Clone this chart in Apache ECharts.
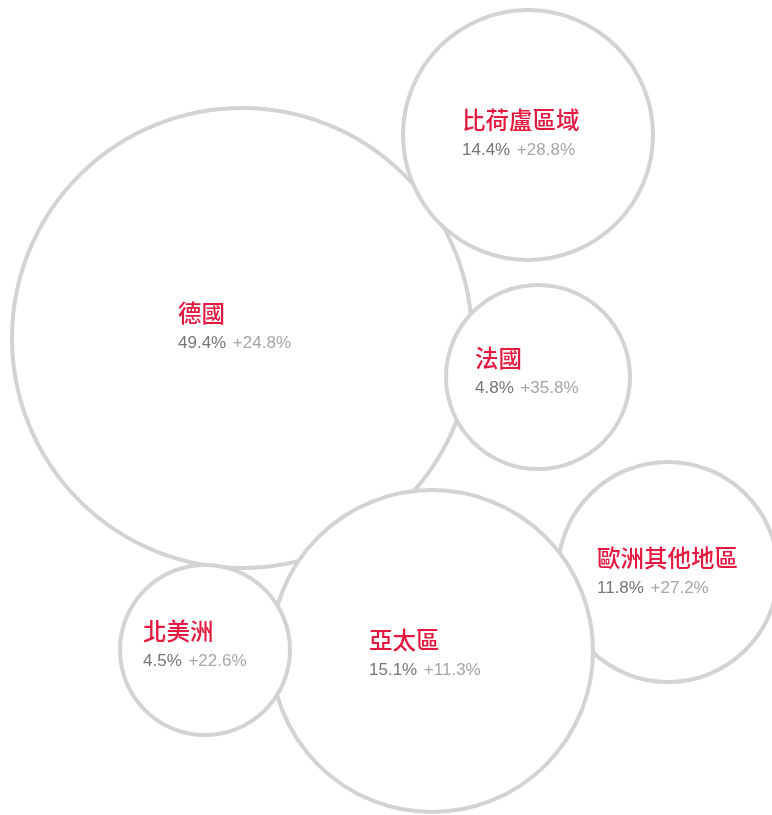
<!DOCTYPE html>
<html>
<head>
<meta charset="utf-8">
<script src="https://cdn.jsdelivr.net/npm/echarts@6/dist/echarts.min.js"></script>
<style>html,body{margin:0;padding:0;background:#fff}#c{width:772px;height:815px}</style>
</head>
<body>
<div id="c"></div>
<script>
// Data
var regions = ['德國', '比荷盧區域', '法國', '歐洲其他地區', '亞太區', '北美洲'];
var shares = [49.4, 14.4, 4.8, 11.8, 15.1, 4.5];
var growth = [24.8, 28.8, 35.8, 27.2, 11.3, 22.6];
// Layout (packed bubble positions, pixel space)
var centerX = [242, 528, 538, 668, 432, 205];
var centerY = [338, 135, 377, 572, 651, 650];
var radius = [230, 125, 92, 110, 161, 85];
var labelDX = [-64, -66, -63, -71, -63, -62];
var labelDY = [-10, 0, -4, 1, 4, -4];

var data = regions.map(function (name, i) {
  return {
    name: name,
    value: [centerX[i], centerY[i], radius[i], shares[i], growth[i]],
    label: { offset: [labelDX[i], labelDY[i]] }
  };
});

var chart = echarts.init(document.getElementById('c'));
chart.setOption({
  animation: false,
  grid: { left: 0, right: 0, top: 0, bottom: 0 },
  xAxis: { type: 'value', min: 0, max: 772, show: false },
  yAxis: { type: 'value', min: 0, max: 815, inverse: true, show: false },
  series: [{
    type: 'scatter',
    data: data,
    symbol: 'circle',
    symbolSize: function (v) { return v[2] * 2; },
    itemStyle: { color: '#fff', borderColor: '#d3d3d3', borderWidth: 4, opacity: 1 },
    label: {
      show: true,
      position: 'inside',
      align: 'left',
      verticalAlign: 'middle',
      formatter: function (p) {
        return '{t|' + p.name + '}\n{a|' + p.value[3].toFixed(1) + '%}  {b|+' + p.value[4].toFixed(1) + '%}';
      },
      rich: {
        t: { fontFamily: 'Noto Sans CJK TC', fontSize: 23.5, fontWeight: 500, color: '#e5193f', lineHeight: 31 },
        a: { fontFamily: 'Liberation Sans', fontSize: 17, color: '#767676', lineHeight: 29 },
        b: { fontFamily: 'Liberation Sans', fontSize: 17, color: '#a6a6a6', lineHeight: 29 }
      }
    },
    emphasis: { disabled: true }
  }]
});
</script>
</body>
</html>
